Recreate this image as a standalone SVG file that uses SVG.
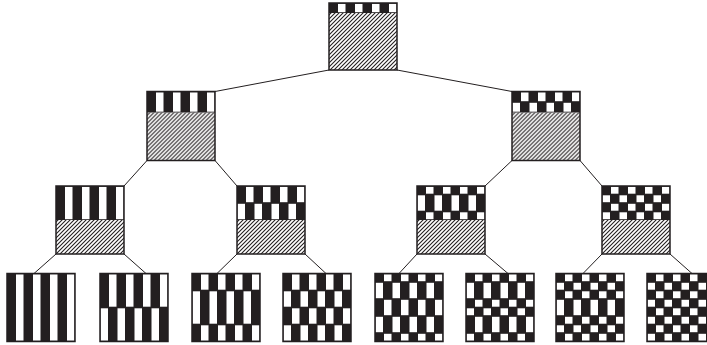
<svg xmlns="http://www.w3.org/2000/svg" width="707" height="345" viewBox="0 0 707 345">
<defs>
<pattern id="hatch" patternUnits="userSpaceOnUse" width="4" height="4">
<path d="M-1,1 l2,-2 M0,4 l4,-4 M3,5 l2,-2" stroke="#231f20" stroke-width="1.1" fill="none"/>
</pattern>
<pattern id="p" patternUnits="userSpaceOnUse" width="17" height="100">
<rect x="9" y="0" width="7.5" height="100" fill="#fff"/>
</pattern>
<pattern id="m" patternUnits="userSpaceOnUse" width="17" height="100">
<rect x="0.5" y="0" width="7.5" height="100" fill="#fff"/>
</pattern>
</defs>
<style>
.bk{fill:#231f20}
.p{fill:url(#p)}
.m{fill:url(#m)}
.h{fill:url(#hatch)}
.bd{fill:none;stroke:#231f20;stroke-width:1.5}
.cn line{stroke:#231f20;stroke-width:1}
</style>
<rect width="707" height="345" fill="#fff"/>
<g id="connectors" class="cn">
<line x1="329" y1="70" x2="215" y2="91.5"/>
<line x1="397" y1="70" x2="512" y2="91.5"/>
<line x1="147" y1="160.5" x2="124" y2="186"/>
<line x1="215" y1="160.5" x2="237" y2="186"/>
<line x1="512" y1="160.5" x2="485" y2="186"/>
<line x1="580" y1="160.5" x2="602" y2="186"/>
<line x1="56" y1="254" x2="34" y2="273.5"/>
<line x1="124" y1="254" x2="146" y2="273.5"/>
<line x1="237" y1="254" x2="217" y2="273.5"/>
<line x1="305" y1="254" x2="326" y2="273.5"/>
<line x1="417" y1="254" x2="399" y2="273.5"/>
<line x1="485" y1="254" x2="508" y2="273.5"/>
<line x1="602" y1="254" x2="583" y2="273.5"/>
<line x1="670" y1="254" x2="692" y2="273.5"/>
</g>
<g id="root" transform="translate(329,3)">
<rect class="bk" width="68" height="10"/>
<rect class="p" y="0.8" width="68" height="8.4"/>
<rect class="h" y="10" width="68" height="57"/>
<rect class="bd" width="68" height="67"/>
</g>
<g id="n1a" transform="translate(147,91.5)">
<rect class="bk" width="68" height="21"/>
<rect class="p" y="0.8" width="68" height="19.4"/>
<rect class="h" y="21" width="68" height="48"/>
<rect class="bd" width="68" height="69"/>
</g>
<g id="n1b" transform="translate(512,91.5)">
<rect class="bk" width="68" height="21"/>
<rect class="p" y="0.8" width="68" height="8.9"/>
<rect class="m" y="11.3" width="68" height="8.9"/>
<rect class="h" y="21" width="68" height="48"/>
<rect class="bd" width="68" height="69"/>
</g>
<g id="n2a" transform="translate(56,186)">
<rect class="bk" width="68" height="34"/>
<rect class="p" y="0.8" width="68" height="32.4"/>
<rect class="h" y="34" width="68" height="34"/>
<rect class="bd" width="68" height="68"/>
</g>
<g id="n2b" transform="translate(237,186)">
<rect class="bk" width="68" height="34"/>
<rect class="p" y="0.8" width="68" height="15.4"/>
<rect class="m" y="17.8" width="68" height="15.4"/>
<rect class="h" y="34" width="68" height="34"/>
<rect class="bd" width="68" height="68"/>
</g>
<g id="n2c" transform="translate(417,186)">
<rect class="bk" width="68" height="34"/>
<rect class="p" y="0.8" width="68" height="6.9"/>
<rect class="m" y="9.3" width="68" height="15.4"/>
<rect class="p" y="26.3" width="68" height="6.9"/>
<rect class="h" y="34" width="68" height="34"/>
<rect class="bd" width="68" height="68"/>
</g>
<g id="n2d" transform="translate(602,186)">
<rect class="bk" width="68" height="34"/>
<rect class="p" y="0.8" width="68" height="6.9"/>
<rect class="m" y="9.3" width="68" height="6.9"/>
<rect class="p" y="17.8" width="68" height="6.9"/>
<rect class="m" y="26.3" width="68" height="6.9"/>
<rect class="h" y="34" width="68" height="34"/>
<rect class="bd" width="68" height="68"/>
</g>
<g id="leaf1" transform="translate(7,273.5)">
<rect class="bk" width="68" height="68"/>
<rect class="p" y="0.8" width="68" height="66.4"/>
<rect class="bd" width="68" height="68"/>
</g>
<g id="leaf2" transform="translate(100,273.5)">
<rect class="bk" width="68" height="68"/>
<rect class="p" y="0.8" width="68" height="32.4"/>
<rect class="m" y="34.8" width="68" height="32.4"/>
<rect class="bd" width="68" height="68"/>
</g>
<g id="leaf3" transform="translate(192,273.5)">
<rect class="bk" width="68" height="68"/>
<rect class="p" y="0.8" width="68" height="15.4"/>
<rect class="m" y="17.8" width="68" height="32.4"/>
<rect class="p" y="51.8" width="68" height="15.4"/>
<rect class="bd" width="68" height="68"/>
</g>
<g id="leaf4" transform="translate(283,273.5)">
<rect class="bk" width="68" height="68"/>
<rect class="p" y="0.8" width="68" height="15.4"/>
<rect class="m" y="17.8" width="68" height="15.4"/>
<rect class="p" y="34.8" width="68" height="15.4"/>
<rect class="m" y="51.8" width="68" height="15.4"/>
<rect class="bd" width="68" height="68"/>
</g>
<g id="leaf5" transform="translate(375,273.5)">
<rect class="bk" width="68" height="68"/>
<rect class="p" y="0.8" width="68" height="6.9"/>
<rect class="m" y="9.3" width="68" height="15.4"/>
<rect class="p" y="26.3" width="68" height="15.4"/>
<rect class="m" y="43.3" width="68" height="15.4"/>
<rect class="p" y="60.3" width="68" height="6.9"/>
<rect class="bd" width="68" height="68"/>
</g>
<g id="leaf6" transform="translate(466,273.5)">
<rect class="bk" width="68" height="68"/>
<rect class="p" y="0.8" width="68" height="6.9"/>
<rect class="m" y="9.3" width="68" height="15.4"/>
<rect class="p" y="26.3" width="68" height="6.9"/>
<rect class="m" y="34.8" width="68" height="6.9"/>
<rect class="p" y="43.3" width="68" height="15.4"/>
<rect class="m" y="60.3" width="68" height="6.9"/>
<rect class="bd" width="68" height="68"/>
</g>
<g id="leaf7" transform="translate(556,273.5)">
<rect class="bk" width="68" height="68"/>
<rect class="p" y="0.8" width="68" height="6.9"/>
<rect class="m" y="9.3" width="68" height="6.9"/>
<rect class="p" y="17.8" width="68" height="6.9"/>
<rect class="m" y="26.3" width="68" height="15.4"/>
<rect class="p" y="43.3" width="68" height="6.9"/>
<rect class="m" y="51.8" width="68" height="6.9"/>
<rect class="p" y="60.3" width="68" height="6.9"/>
<rect class="bd" width="68" height="68"/>
</g>
<g id="leaf8" transform="translate(647,273.5)">
<rect class="bk" width="68" height="68"/>
<rect class="p" y="0.8" width="68" height="6.9"/>
<rect class="m" y="9.3" width="68" height="6.9"/>
<rect class="p" y="17.8" width="68" height="6.9"/>
<rect class="m" y="26.3" width="68" height="6.9"/>
<rect class="p" y="34.8" width="68" height="6.9"/>
<rect class="m" y="43.3" width="68" height="6.9"/>
<rect class="p" y="51.8" width="68" height="6.9"/>
<rect class="m" y="60.3" width="68" height="6.9"/>
<rect class="bd" width="68" height="68"/>
</g>
</svg>
